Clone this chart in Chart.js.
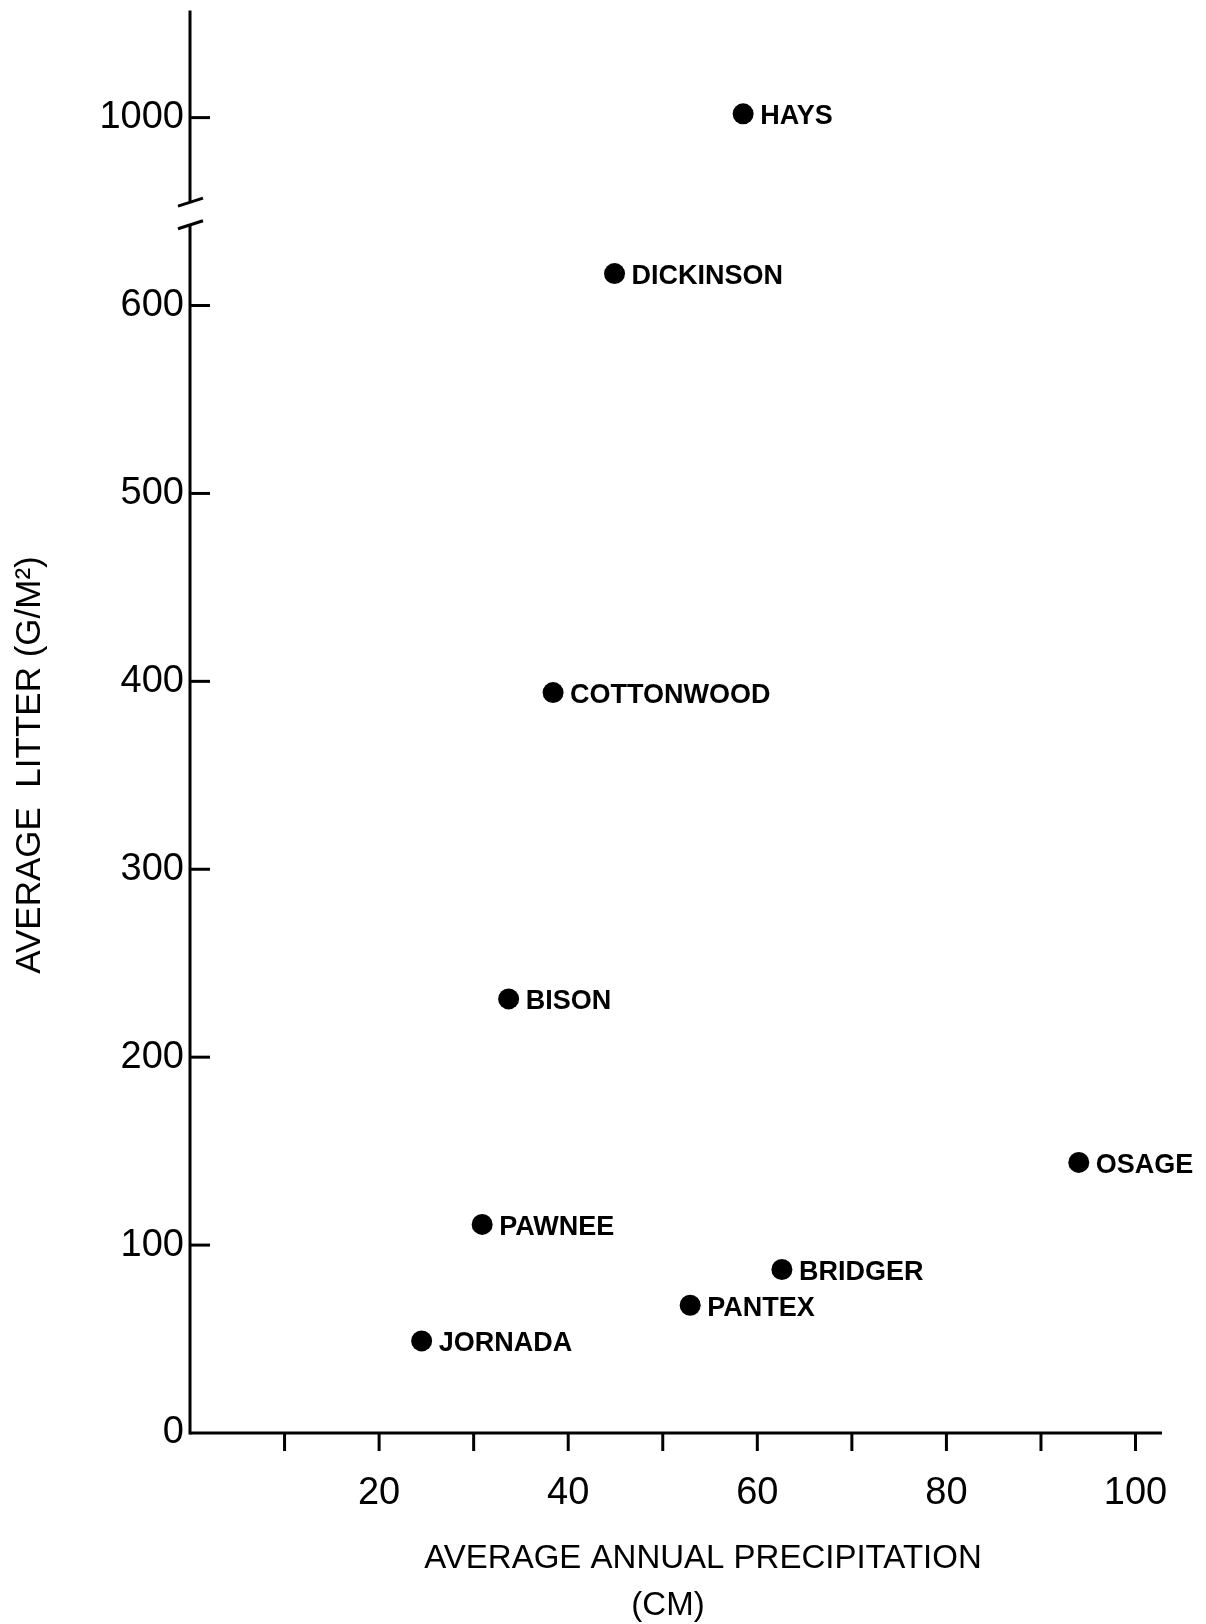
<!DOCTYPE html>
<html>
<head>
<meta charset="utf-8">
<script src="https://cdn.jsdelivr.net/npm/chart.js@4.4.1/dist/chart.umd.min.js"></script>
<style>
  html, body { margin: 0; padding: 0; background: #fff; }
  #wrap { width: 1206px; height: 1624px; }
</style>
</head>
<body>
<div id="wrap"><canvas id="chart" width="1206" height="1624"></canvas></div>
<script>
// site data
const SITES  = ["HAYS", "DICKINSON", "COTTONWOOD", "BISON", "OSAGE", "PAWNEE", "BRIDGER", "PANTEX", "JORNADA"];
const PRECIP = [58.5, 44.9, 38.4, 33.7, 94.0, 30.9, 62.6, 52.9, 24.5];   // cm
const LITTER = [1002, 617, 394, 231, 144, 111, 87, 68, 49];               // g/m2

const X_TICKS       = [10, 20, 30, 40, 50, 60, 70, 80, 90, 100];
const X_TICK_LABELS = ["", "20", "", "40", "", "60", "", "80", "", "100"];
const Y_TICKS       = [0, 100, 200, 300, 400, 500, 600, 1000];
const Y_TICK_LABELS = ["0", "100", "200", "300", "400", "500", "600", "1000"];

// broken y axis: everything above BREAK_AT is drawn BREAK_SHIFT lower
const BREAK_AT = 650;
const BREAK_SHIFT = 300;
const BREAK_GAP = [643, 655];   // axis units where the line is cut
const toAxis = v => (v > BREAK_AT ? v - BREAK_SHIFT : v);

const FONT = '"Liberation Sans", Arial, sans-serif';

const handAxes = {
  id: "handAxes",
  afterDraw(chart) {
    const { ctx, chartArea: a } = chart;
    const x = chart.scales.x, y = chart.scales.y;
    const x0 = x.getPixelForValue(0), y0 = y.getPixelForValue(0);
    const line = (ax, ay, bx, by) => { ctx.beginPath(); ctx.moveTo(ax, ay); ctx.lineTo(bx, by); ctx.stroke(); };

    ctx.save();
    ctx.strokeStyle = "#000";
    ctx.lineWidth = 3;

    // axes
    line(a.left, y0, a.right, y0);
    const yTop = y.getPixelForValue(y.max);
    const yLo = y.getPixelForValue(BREAK_GAP[0]);
    const yHi = y.getPixelForValue(BREAK_GAP[1]);
    line(x0, y0 + 1.5, x0, yLo);
    line(x0, yHi, x0, yTop);
    // break marks
    line(x0 - 12, yLo + 4, x0 + 13, yLo - 4);
    line(x0 - 12, yHi + 4, x0 + 13, yHi - 4);

    // ticks: y inward, x downward
    y.ticks.forEach(t => {
      if (t.value <= 0) return;
      const py = y.getPixelForValue(t.value);
      line(x0, py, x0 + 20, py);
    });
    x.ticks.forEach(t => {
      const px = x.getPixelForValue(t.value);
      line(px, y0, px, y0 + 18);
    });

    // site labels
    ctx.fillStyle = "#000";
    ctx.font = "bold 27px " + FONT;
    ctx.textAlign = "left";
    ctx.textBaseline = "middle";
    const meta = chart.getDatasetMeta(0);
    meta.data.forEach((pt, i) => {
      ctx.fillText(SITES[i], pt.x + 17, pt.y + 3);
    });

    // axis titles
    ctx.font = "33px " + FONT;
    ctx.textAlign = "center";
    ctx.fillText("AVERAGE ANNUAL PRECIPITATION", 703, 1559);
    ctx.fillText("(CM)", 668, 1606);

    ctx.save();
    ctx.translate(30, 765);
    ctx.rotate(-Math.PI / 2);
    ctx.font = "35px " + FONT;
    ctx.fillText("AVERAGE  LITTER (G/M²)", 0, 0);
    ctx.restore();

    ctx.restore();
  }
};

new Chart(document.getElementById("chart"), {
  type: "scatter",
  data: {
    datasets: [{
      data: SITES.map((s, i) => ({ x: PRECIP[i], y: toAxis(LITTER[i]) })),
      backgroundColor: "#000",
      borderWidth: 0,
      pointRadius: 10.5,
      pointHoverRadius: 10.5
    }]
  },
  options: {
    responsive: false,
    animation: false,
    devicePixelRatio: 1,
    layout: { padding: { top: 8, right: 44, left: 0, bottom: 0 } },
    plugins: { legend: { display: false }, tooltip: { enabled: false } },
    scales: {
      x: {
        type: "linear",
        min: 0,
        max: 102.8,
        grid: { display: false, drawTicks: false },
        border: { display: false },
        afterBuildTicks: s => { s.ticks = X_TICKS.map(v => ({ value: v })); },
        afterFit: s => { s.height = 191; s.paddingLeft = 0; s.paddingRight = 0; },
        ticks: {
          padding: 38,
          autoSkip: false,
          maxRotation: 0,
          color: "#000",
          font: { family: FONT, size: 38 },
          callback: (v, i) => X_TICK_LABELS[i]
        }
      },
      y: {
        type: "linear",
        min: 0,
        max: 757,
        grid: { display: false, drawTicks: false },
        border: { display: false },
        afterBuildTicks: s => { s.ticks = Y_TICKS.map(v => ({ value: toAxis(v) })); },
        afterFit: s => { s.width = 190; s.paddingTop = 0; s.paddingBottom = 0; },
        ticks: {
          padding: 6,
          autoSkip: false,
          color: "#000",
          font: { family: FONT, size: 38 },
          callback: (v, i) => Y_TICK_LABELS[i]
        }
      }
    }
  },
  plugins: [handAxes]
});
</script>
</body>
</html>
